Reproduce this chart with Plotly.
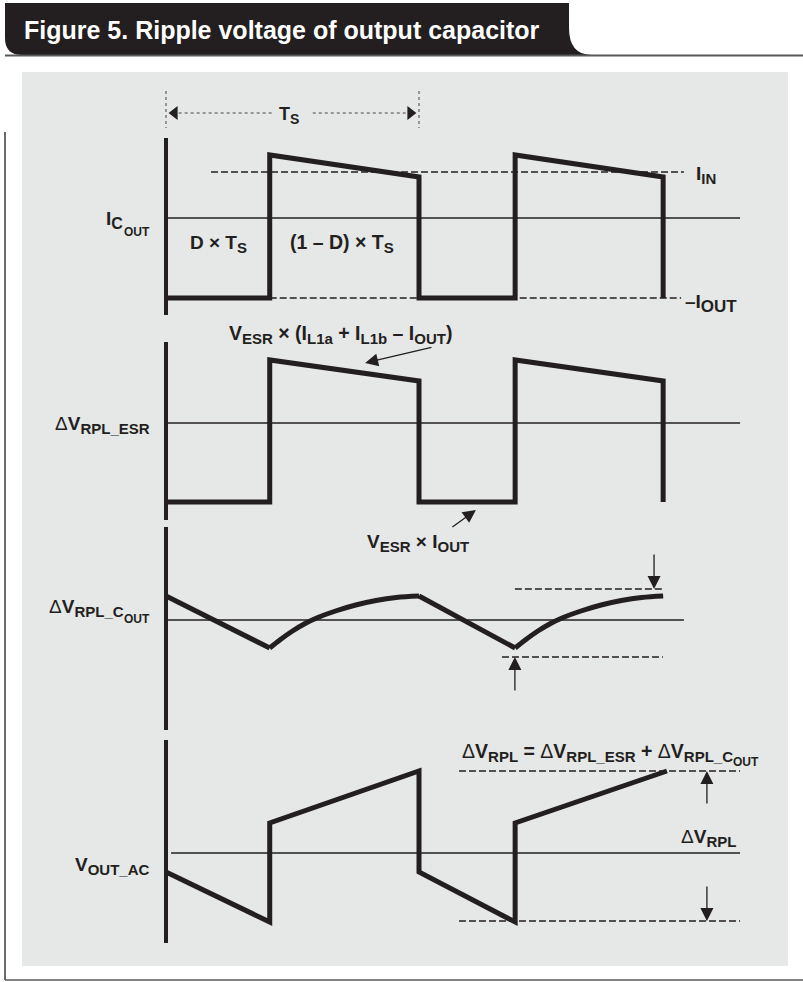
import plotly.graph_objects as go

W, H = 803, 982
INK = "#231f20"
PANEL = "#e6e7e7"
FONT = "Liberation Sans, Arial, Helvetica, sans-serif"

# ---------------- data (time in units of Ts, amplitudes relative to each panel's zero line) ----------
# Panel 1: output-capacitor current I_COUT
t_icout = [0, 0.41, 0.41, 1.0, 1.0, 1.38, 1.38, 1.965, 1.965]
v_icout = [-80, -80, 63, 41, -80, -80, 63, 41, -80]
i_in_level = 46
i_out_level = -80

# Panel 2: ESR ripple
t_esr = [0, 0.41, 0.41, 1.0, 1.0, 1.38, 1.38, 1.965, 1.965]
v_esr = [-79, -79, 63, 42, -79, -79, 63, 42, -79]

# Panel 3: capacitive ripple (linear discharge segments + charging curves)
t_cout_lin = [0, 0.41, None, 1.0, 1.38]
v_cout_lin = [24, -28, None, 24, -28]
t_cout_curve1 = [0.41, 0.45, 0.50, 0.55, 0.60, 0.67, 0.75, 0.83, 0.91, 1.0]
v_cout_curve1 = [-28, -20, -11, -3.5, 2.5, 9, 15, 19.5, 22.5, 24]
t_cout_curve2 = [1.38, 1.42, 1.47, 1.52, 1.57, 1.64, 1.72, 1.80, 1.88, 1.965]
v_cout_curve2 = [-28, -20, -11, -3.5, 2.5, 9, 15, 19.5, 22.5, 24]
cout_top_level = 31
cout_bot_level = -37

# Panel 4: total output ripple
t_vout = [0, 0.41, 0.41, 1.0, 1.0, 1.38, 1.38, 1.98]
v_vout = [-19, -69, 30, 82, -19, -69, 30, 82]
vout_top_level = 82
vout_bot_level = -68

# vertical axis extents per panel (top, bottom amplitude)
axis_ext = [(80, -97), (81, -97), (93, -110), (113, -90)]
# zero-line extents (t start, t end)
zero_ext = [(0, 2.269), (0, 2.269), (0, 2.047), (0.02, 2.269)]
# pixel row of each panel's zero line
zero_rows = [218, 423, 620, 853]

# ---------------- helpers ----------------
def px(x):
    return x / W

def py(y):
    return 1 - y / H

fig = go.Figure()
yax = ["y", "y2", "y3", "y4"]


def line(t, v, ax, width, dash="solid", color=INK, shape="linear"):
    fig.add_trace(go.Scatter(x=t, y=v, yaxis=ax, mode="lines",
                             line=dict(color=color, width=width, dash=dash, shape=shape),
                             connectgaps=False, hoverinfo="skip", showlegend=False))

# zero lines
for i in range(4):
    line(list(zero_ext[i]), [0, 0], yax[i], 1.3)

# dashed reference levels
DASH = "7px,3px"
DW = 1.4
line([0.178, 2.047], [i_in_level] * 2, "y", DW, DASH)
line([0.41, 2.036], [i_out_level] * 2, "y", DW, DASH)
line([1.379, 1.964], [cout_top_level] * 2, "y3", DW, DASH)
line([1.328, 1.964], [cout_bot_level] * 2, "y3", DW, DASH)
line([1.158, 2.269], [vout_top_level] * 2, "y4", DW, DASH)
line([1.158, 2.269], [vout_bot_level] * 2, "y4", DW, DASH)

# waveforms
line(t_icout, v_icout, "y", 5)
line(t_esr, v_esr, "y2", 5)
line(t_cout_lin, v_cout_lin, "y3", 5)
line(t_cout_curve1, v_cout_curve1, "y3", 5, shape="spline")
line(t_cout_curve2, v_cout_curve2, "y3", 5, shape="spline")
line(t_vout, v_vout, "y4", 5)

# vertical axes
for i in range(4):
    line([0, 0], list(axis_ext[i]), yax[i], 4)

# Ts dimension (in panel-1 coordinates)
line([0, 0], [127, 90], "y", 1, "dot", "#444")
line([1, 1], [127, 90], "y", 1, "dot", "#444")
line([0.05, 0.42], [105, 105], "y", 1, "dot", "#444")
line([0.58, 0.955], [105, 105], "y", 1, "dot", "#444")
fig.add_trace(go.Scatter(x=[0.034, 0.966], y=[105, 105], yaxis="y", mode="markers",
                         marker=dict(symbol=["triangle-left", "triangle-right"], size=12,
                                     color=INK, line=dict(width=0)),
                         hoverinfo="skip", showlegend=False))

# ---------------- shapes (decoration) ----------------
shapes = []
shapes.append(dict(type="rect", xref="paper", yref="paper", x0=px(22), x1=px(788),
                   y0=py(966), y1=py(72), fillcolor=PANEL, line=dict(width=0), layer="below"))
pts = [("M", 5, 3), ("L", 569, 3), ("L", 569, 28), ("Q", 569, 55, 592, 55),
       ("L", 22, 55), ("Q", 5, 55, 5, 38), ("Z",)]
path = ""
for p in pts:
    if p[0] == "Z":
        path += " Z"
    elif p[0] == "Q":
        path += f" Q {px(p[1])},{py(p[2])} {px(p[3])},{py(p[4])}"
    else:
        path += f" {p[0]} {px(p[1])},{py(p[2])}"
shapes.append(dict(type="path", xref="paper", yref="paper", path=path.strip(),
                   fillcolor=INK, line=dict(width=0), layer="above"))
shapes.append(dict(type="line", xref="paper", yref="paper", x0=px(5), x1=px(803),
                   y0=py(55.5), y1=py(55.5), line=dict(color="#58595b", width=2)))
shapes.append(dict(type="line", xref="paper", yref="paper", x0=px(5), x1=px(5),
                   y0=py(132), y1=py(980), line=dict(color="#3a3a3a", width=1.5)))
shapes.append(dict(type="line", xref="paper", yref="paper", x0=px(5), x1=px(803),
                   y0=py(980), y1=py(980), line=dict(color="#58595b", width=1.5)))

# ---------------- annotations ----------------
ann = []


def label(text, x, y, xanchor="left", size=19, color=INK, yanchor="middle"):
    ann.append(dict(text=text, xref="paper", yref="paper", x=px(x), y=py(y),
                    xanchor=xanchor, yanchor=yanchor, showarrow=False,
                    font=dict(family=FONT, size=size, color=color, weight="bold")))


D = '<span style="font-weight:normal">Δ</span>'


def sub(s, size=15):
    return f'<sub><span style="font-size:{size}px">{s}</span></sub>'


label("Figure 5. Ripple voltage of output capacitor", 22, 30, size=25, color="white")
label("T" + sub("S", 14), 289, 115, xanchor="center", size=18)

# I_C_OUT
label("I" + sub("C", 16), 125, 220, xanchor="right", size=19)
label("OUT", 152, 232, xanchor="right", size=12)

label("D × T" + sub("S"), 188, 244, size=19)
label("(1 – D) × T" + sub("S"), 288, 244, size=19.5)
label("I" + sub("IN"), 694, 175, size=19)
label("–I" + sub("OUT", 17), 683, 303, size=19)

label(D + "V" + sub("RPL_ESR"), 152, 425, xanchor="right", size=19)
label("V" + sub("ESR") + " × (I" + sub("L1a") + " + I" + sub("L1b") + " – I" + sub("OUT") + ")",
      227, 335, size=19.5)
label("V" + sub("ESR") + " × I" + sub("OUT"), 365, 543, size=19)

# ΔV_RPL_C_OUT
label(D + "V" + sub("RPL_C"), 126, 608, xanchor="right", size=19)
label("OUT", 152, 619, xanchor="right", size=12)

# equation
label(D + "V" + sub("RPL") + " = " + D + "V" + sub("RPL_ESR") + " + " + D + "V" + sub("RPL_C"),
      735, 752, xanchor="right", size=19.5)
label("OUT", 761, 762, xanchor="right", size=12)

label(D + "V" + sub("RPL"), 679, 838, size=19)
label("V" + sub("OUT_AC"), 152, 866, xanchor="right", size=19)


def arrow(t_head, a_head, t_tail, a_tail, ax):
    ann.append(dict(x=t_head, y=a_head, ax=t_tail, ay=a_tail, xref="x", yref=ax,
                    axref="x", ayref=ax, text="", showarrow=True, arrowhead=2,
                    arrowsize=2.0, arrowwidth=1.3, arrowcolor=INK, standoff=0,
                    startstandoff=0))


arrow(0.787, 60, 1.055, 76, "y2")
arrow(1.225, -87, 1.126, -105, "y2")
arrow(1.929, 31, 1.929, 67, "y3")
arrow(1.379, -37, 1.379, -72, "y3")
arrow(2.138, 82, 2.138, 48, "y4")
arrow(2.138, -68, 2.138, -32, "y4")

# ---------------- layout ----------------
def yaxis_for(row, overlay=True):
    d = dict(range=[-(H - row), row], domain=[0, 1], visible=False, fixedrange=True)
    if overlay:
        d["overlaying"] = "y"
    return d

fig.update_layout(
    width=W, height=H,
    margin=dict(l=0, r=0, t=0, b=0),
    paper_bgcolor="white", plot_bgcolor="rgba(0,0,0,0)",
    xaxis=dict(range=[-166 / 253, (W - 166) / 253], domain=[0, 1], visible=False, fixedrange=True),
    yaxis=yaxis_for(zero_rows[0], overlay=False),
    yaxis2=yaxis_for(zero_rows[1]),
    yaxis3=yaxis_for(zero_rows[2]),
    yaxis4=yaxis_for(zero_rows[3]),
    shapes=shapes,
    annotations=ann,
    showlegend=False,
)

fig.write_html("out.html", config={"displayModeBar": False},
               post_script="document.body.style.margin='0px';document.body.style.overflow='hidden';")
